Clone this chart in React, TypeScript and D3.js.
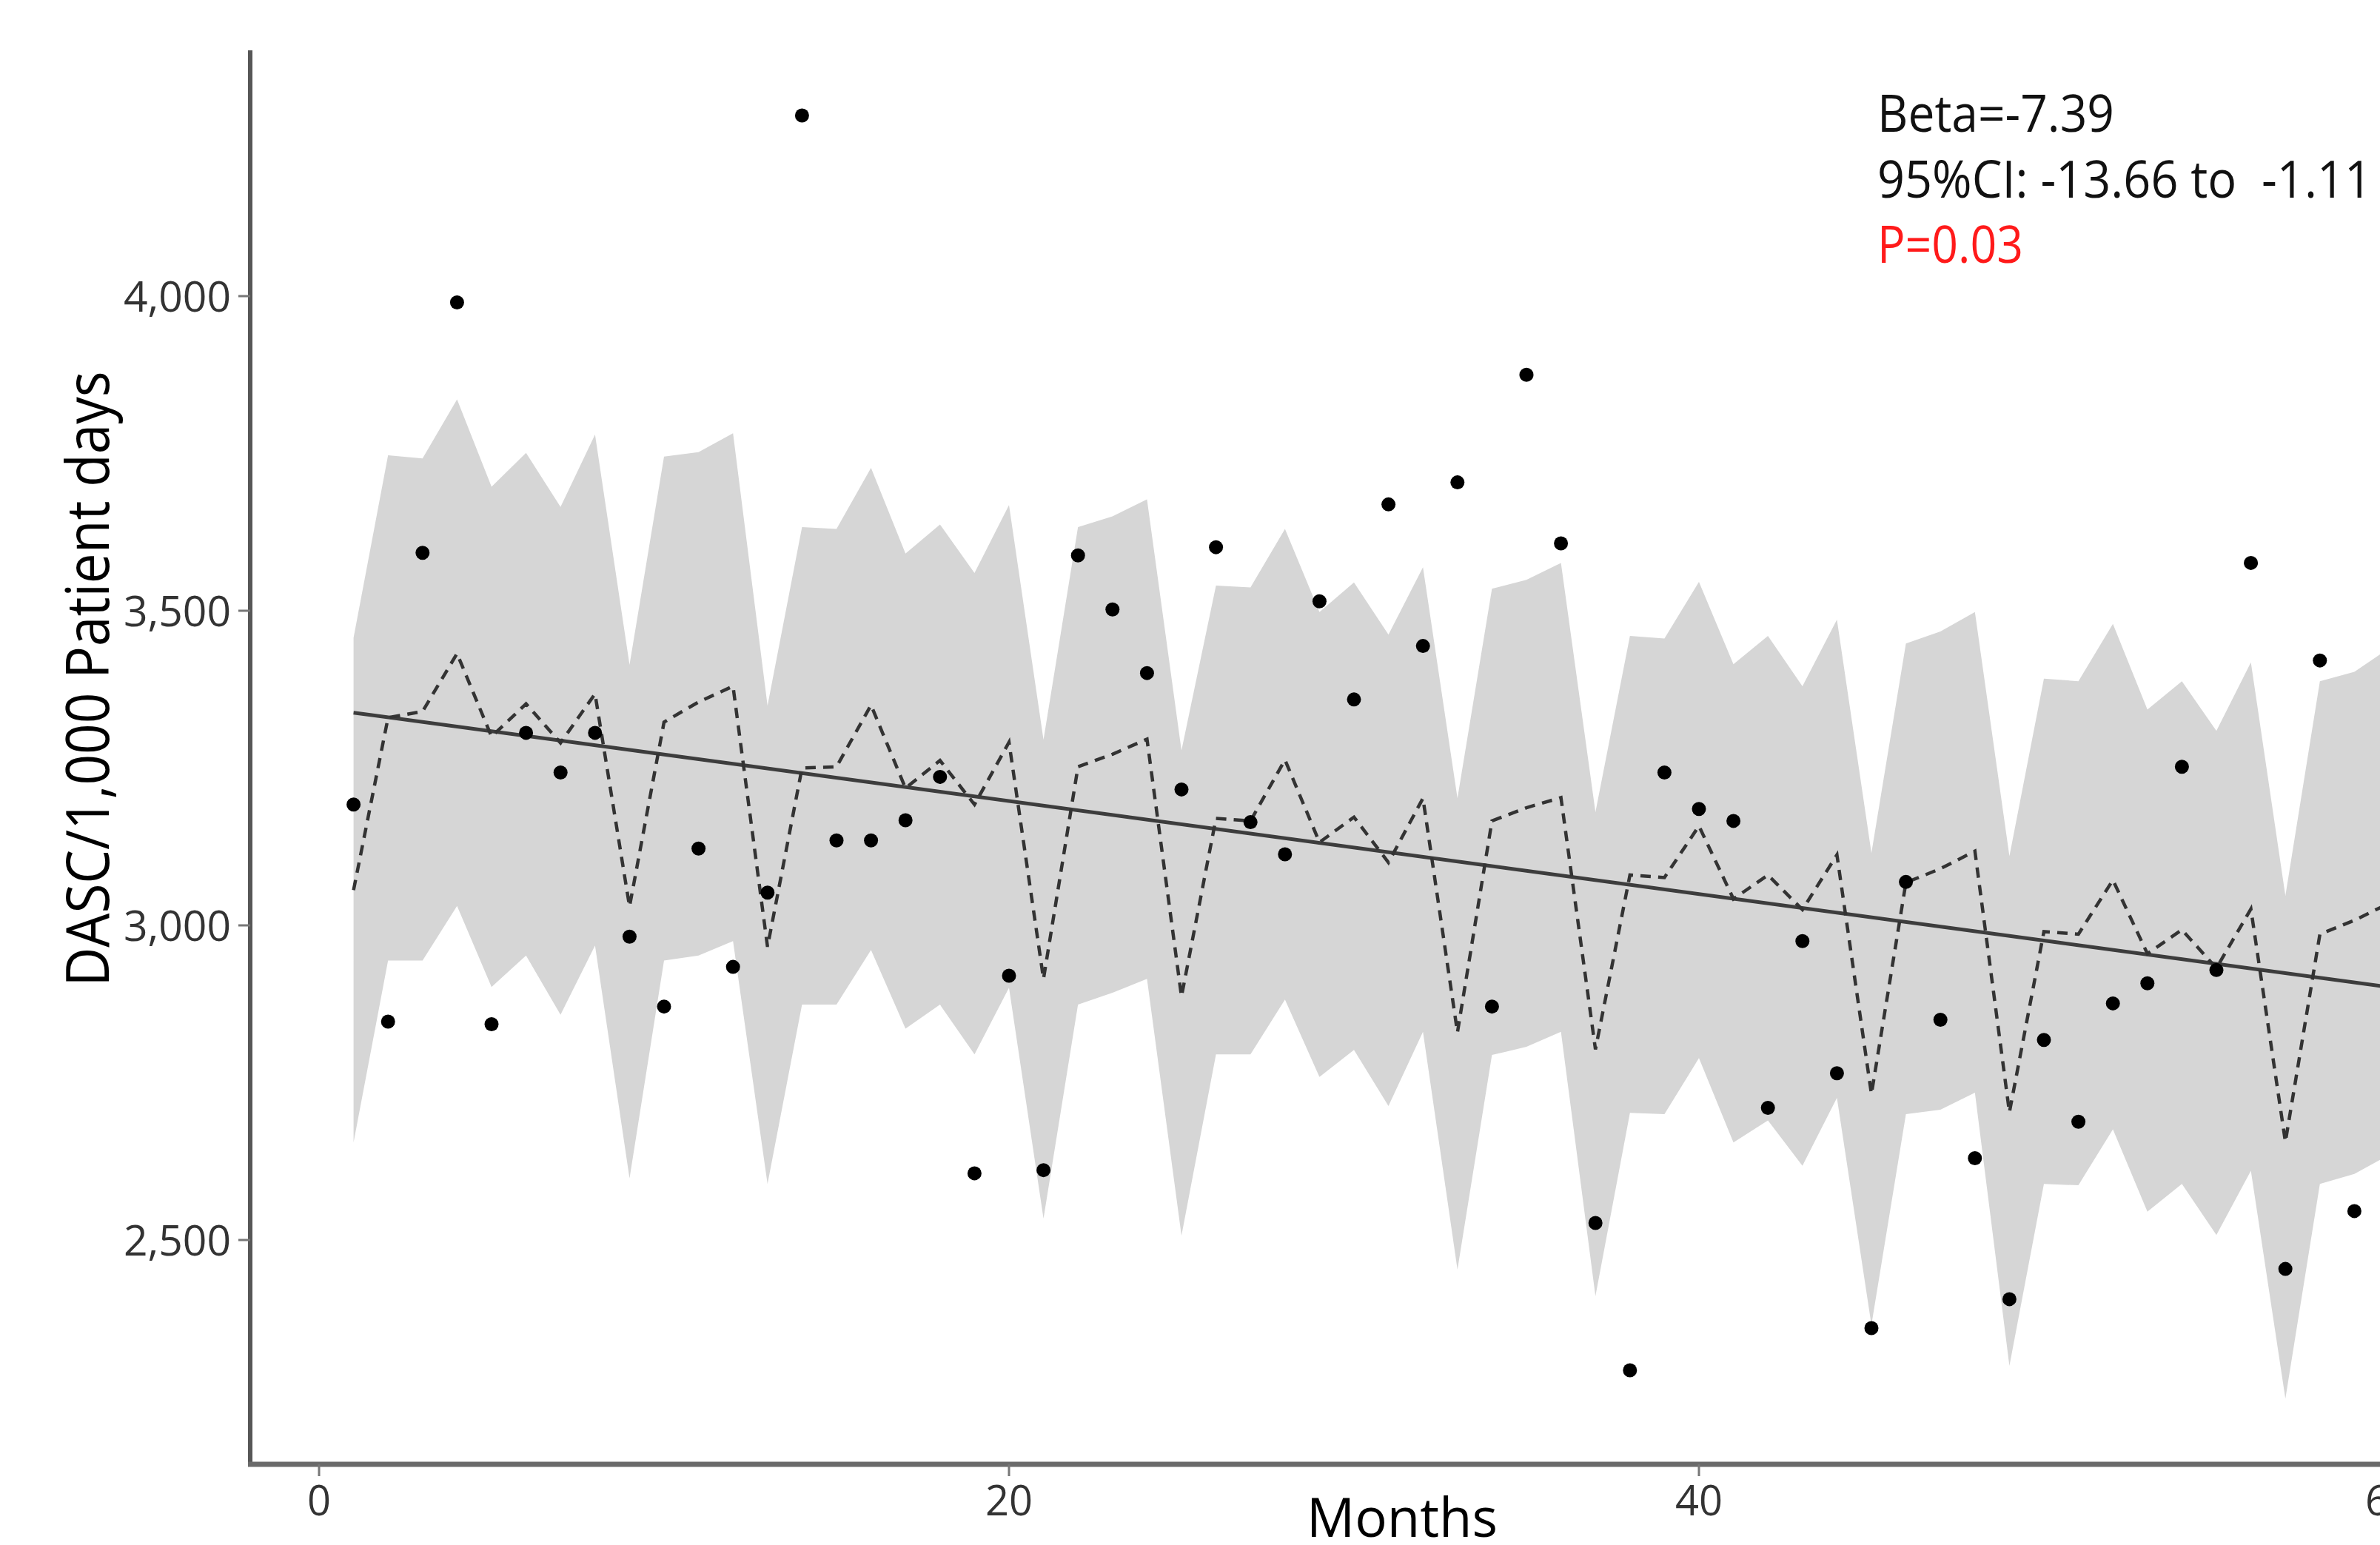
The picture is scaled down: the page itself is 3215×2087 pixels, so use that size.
import React from 'react';
import * as d3 from 'd3';

// ---- data ----
const months = [
  1, 2, 3, 4, 5, 6, 7, 8, 9, 10, 11, 12, 13, 14, 15, 16, 17, 18, 19, 20,
  21, 22, 23, 24, 25, 26, 27, 28, 29, 30, 31, 32, 33, 34, 35, 36, 37, 38, 39, 40,
  41, 42, 43, 44, 45, 46, 47, 48, 49, 50, 51, 52, 53, 54, 55, 56, 57, 58, 59, 60,
];

// observed DASC/1,000 patient days (months 1..59 visible)
const observed = [
  3192, 2847, 3592, 3990, 2843, 3306, 3243, 3306, 2982, 2871,
  3122, 2934, 3052, 4287, 3135, 3135, 3167, 3236, 2606, 2920,
  2611, 3588, 3502, 3401, 3216, 3601, 3164, 3113, 3515, 3359,
  3669, 3444, 3704, 2871, 3875, 3607, 2527, 2293, 3243, 3185,
  3166, 2710, 2975, 2765, 2360, 3069, 2850, 2630, 2406, 2818,
  2688, 2876, 2908, 3252, 2929, 3576, 2454, 3421, 2546,
];

// fitted values (dashed line)
const fitted = [
  3056, 3330, 3340, 3432, 3300, 3352, 3290, 3368, 3030, 3323,
  3355, 3380, 2966, 3250, 3252, 3350, 3218, 3262, 3192, 3291,
  2915, 3252, 3272, 3296, 2887, 3170, 3166, 3263, 3132, 3172,
  3100, 3202, 2830, 3166, 3187, 3203, 2803, 3080, 3076, 3158,
  3042, 3080, 3025, 3112, 2732, 3068, 3090, 3118, 2703, 2990,
  2986, 3072, 2955, 2993, 2932, 3026, 2656, 2986, 3008, 3035,
];

// 95% band upper / lower
const upper = [
  3457, 3747, 3742, 3836, 3697, 3751, 3665, 3780, 3414, 3745,
  3752, 3782, 3349, 3633, 3630, 3727, 3591, 3637, 3560, 3668,
  3295, 3633, 3650, 3677, 3278, 3540, 3537, 3630, 3498, 3545,
  3462, 3569, 3202, 3535, 3549, 3576, 3180, 3460, 3456, 3546,
  3415, 3460, 3380, 3486, 3115, 3448, 3467, 3498, 3110, 3392,
  3388, 3479, 3343, 3388, 3309, 3418, 3047, 3388, 3403, 3440,
];

const lower = [
  2655, 2944, 2944, 3031, 2902, 2952, 2858, 2968, 2598, 2944,
  2952, 2975, 2589, 2874, 2874, 2961, 2836, 2874, 2795, 2901,
  2534, 2874, 2893, 2915, 2507, 2795, 2795, 2882, 2759, 2802,
  2713, 2831, 2453, 2794, 2807, 2831, 2411, 2702, 2700, 2789,
  2655, 2690, 2618, 2726, 2365, 2700, 2707, 2734, 2300, 2589,
  2587, 2676, 2545, 2589, 2508, 2610, 2248, 2589, 2605, 2635,
];

// linear trend (solid line) endpoints
const trendMonths = [1, 60];
const trendValues = [3338, 2902];

const xTicks = [0, 20, 40, 60];
const yTicks = [2500, 3000, 3500, 4000];

const annotation = ['Beta=-7.39', '95%CI: -13.66 to  -1.11', 'P=0.03'];

// ---- layout ----
const W = 3215;
const H = 2087;
const axisLeft = 338;
const axisTop = 68;
const axisBottom = 1978;

const FONT = "'Open Sans', 'DejaVu Sans', sans-serif";

export default function App() {
  const x = d3.scaleLinear().domain([0, 60]).range([431, 3227]);
  const y = d3.scaleLinear().domain([2500, 4000]).range([1675, 400]);

  const band = months.map((m, i) => ({ m, lo: lower[i], hi: upper[i] }));
  const fit = months.map((m, i) => ({ m, v: fitted[i] }));
  const obs = observed.map((v, i) => ({ m: months[i], v }));
  const trend = trendMonths.map((m, i) => ({ m, v: trendValues[i] }));

  const area = d3
    .area<{ m: number; lo: number; hi: number }>()
    .x((d) => x(d.m))
    .y0((d) => y(d.lo))
    .y1((d) => y(d.hi));
  const line = d3
    .line<{ m: number; v: number }>()
    .x((d) => x(d.m))
    .y((d) => y(d.v));

  const fmt = d3.format(',');

  return (
    <svg
      width={W}
      height={H}
      viewBox={`0 0 ${W} ${H}`}
      style={{ position: 'absolute', left: 0, top: 0, display: 'block', background: '#fff' }}
    >
      <defs>
        <clipPath id="plotClip">
          <rect x={axisLeft} y={axisTop} width={W - axisLeft} height={axisBottom - axisTop} />
        </clipPath>
      </defs>
      <rect x={0} y={0} width={W} height={H} fill="#fff" />

      <g clipPath="url(#plotClip)">
        <path d={area(band) || ''} fill="#d6d6d6" stroke="none" />
        <path d={line(trend) || ''} fill="none" stroke="#3d3d3d" strokeWidth={5} />
        <path
          d={line(fit) || ''}
          fill="none"
          stroke="#333"
          strokeWidth={4.5}
          strokeDasharray="14 10"
        />
        {obs.map((d, i) => (
          <circle key={i} cx={x(d.m)} cy={y(d.v)} r={9.5} fill="#000" />
        ))}
      </g>

      {/* axes */}
      <line x1={axisLeft} x2={axisLeft} y1={axisTop} y2={axisBottom + 3} stroke="#575757" strokeWidth={6} />
      <line x1={axisLeft - 3} x2={W} y1={axisBottom} y2={axisBottom} stroke="#6a6a6a" strokeWidth={7} />

      {yTicks.map((t) => (
        <g key={t}>
          <line x1={axisLeft - 16} x2={axisLeft} y1={y(t)} y2={y(t)} stroke="#777" strokeWidth={3} />
          <text
            x={axisLeft - 26}
            y={y(t)}
            dy="0.36em"
            textAnchor="end"
            fontFamily={FONT}
            fontSize={57}
            fill="#333"
          >
            {fmt(t)}
          </text>
        </g>
      ))}

      {xTicks.map((t) => (
        <g key={t}>
          <line x1={x(t)} x2={x(t)} y1={axisBottom} y2={axisBottom + 16} stroke="#777" strokeWidth={3} />
          <text
            x={x(t)}
            y={2047}
            textAnchor="middle"
            fontFamily={FONT}
            fontSize={56}
            fill="#333"
          >
            {t}
          </text>
        </g>
      ))}

      {/* axis titles */}
      <text
        transform={`translate(147, 917) rotate(-90)`}
        textAnchor="middle"
        fontFamily={FONT}
        fontSize={80}
        fill="#000"
        textLength={831}
        lengthAdjust="spacingAndGlyphs"
      >
        DASC/1,000 Patient days
      </text>
      <text
        x={1894}
        y={2076}
        textAnchor="middle"
        fontFamily={FONT}
        fontSize={74}
        fill="#000"
        textLength={258}
        lengthAdjust="spacingAndGlyphs"
      >
        Months
      </text>

      {/* annotation */}
      {annotation.map((s, i) => (
        <text
          key={i}
          x={2536}
          y={[178, 267, 355][i]}
          fontFamily={FONT}
          fontSize={69}
          fill={i === 2 ? '#ff1a1a' : '#111'}
          style={{ whiteSpace: 'pre' }}
          textLength={[320, 668, 197][i]}
          lengthAdjust="spacingAndGlyphs"
        >
          {s}
        </text>
      ))}
    </svg>
  );
}
